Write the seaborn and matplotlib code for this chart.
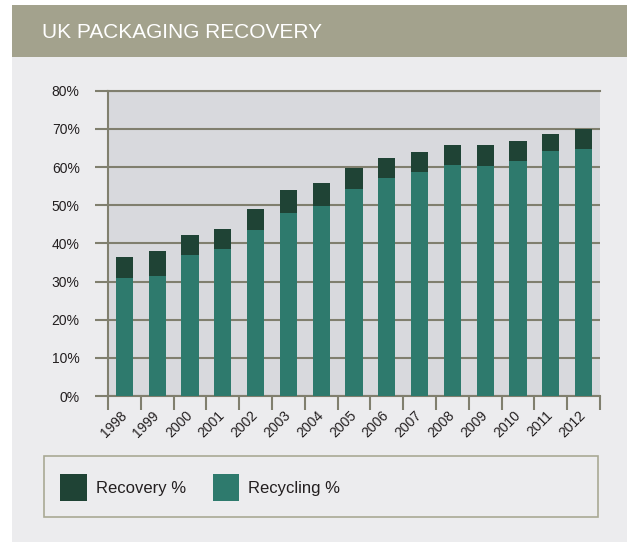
import pandas as pd
import numpy as np
import matplotlib
matplotlib.use("Agg")
import matplotlib.pyplot as plt
from matplotlib.patches import Rectangle, Patch
import seaborn as sns

# values
years = ["1998", "1999", "2000", "2001", "2002", "2003", "2004", "2005",
         "2006", "2007", "2008", "2009", "2010", "2011", "2012"]
recovery = [36.4, 38.0, 42.1, 43.7, 49.0, 53.9, 55.8, 59.7,
            62.3, 63.9, 65.7, 65.7, 66.8, 68.6, 69.9]
recycling = [30.9, 31.4, 36.9, 38.5, 43.5, 47.9, 49.7, 54.2,
             57.1, 58.6, 60.5, 60.2, 61.5, 64.1, 64.7]
y_ticks = [0, 10, 20, 30, 40, 50, 60, 70, 80]

df = pd.DataFrame({"year": years, "recovery": recovery, "recycling": recycling})

sns.set_style("white")
plt.rcParams["font.family"] = ["Liberation Sans", "DejaVu Sans"]

c_recovery = "#1f4335"
c_recycling = "#2e7a6d"
c_grid = "#807f6e"
c_panel = "#ececee"
c_header = "#a3a28d"
c_plot = "#d8d9dd"
c_text = "#231f20"

W, H = 627, 542
fig = plt.figure(figsize=(W / 100, H / 100), dpi=100, facecolor="white")

# header band and panel background
fig.patches.append(Rectangle((12 / W, 0), 615 / W, 485 / H, transform=fig.transFigure,
                             facecolor=c_panel, edgecolor="none", zorder=-2))
fig.patches.append(Rectangle((12 / W, 1 - 57 / H), 615 / W, 52 / H, transform=fig.transFigure,
                             facecolor=c_header, edgecolor="none", zorder=-2))
fig.text(42 / W, 1 - 32 / H, "UK PACKAGING RECOVERY", color="white", fontsize=15,
         va="center", ha="left")

ax = fig.add_axes([108 / W, 1 - 396 / H, 492 / W, 305.3 / H])
ax.set_facecolor(c_plot)

sns.barplot(data=df, x="year", y="recovery", color=c_recovery, width=0.52,
            saturation=1, errorbar=None, ax=ax, zorder=3, linewidth=0, edgecolor="none")
sns.barplot(data=df, x="year", y="recycling", color=c_recycling, width=0.52,
            saturation=1, errorbar=None, ax=ax, zorder=3, linewidth=0, edgecolor="none")

ax.set_xlim(-0.5, len(years) - 0.5)
ax.set_ylim(0, 80)
ax.set_yticks(y_ticks)
ax.set_yticklabels([f"{t}%" for t in y_ticks])
ax.set_xlabel("")
ax.set_ylabel("")

ax.set_axisbelow(True)
ax.yaxis.grid(True, color=c_grid, linewidth=1.5)
ax.xaxis.grid(False)

for side in ["left", "bottom", "top"]:
    ax.spines[side].set_visible(True)
    ax.spines[side].set_color(c_grid)
    ax.spines[side].set_linewidth(1.5)
ax.spines["right"].set_visible(False)

ax.tick_params(axis="y", which="major", left=True, length=9.4, width=1.5, color=c_grid,
               pad=11, labelsize=10, labelcolor=c_text)
ax.set_xticks(np.arange(-0.5, len(years)), minor=True)
ax.tick_params(axis="x", which="minor", bottom=True, length=10, width=1.5, color=c_grid)
ax.tick_params(axis="x", which="major", bottom=True, length=0, pad=12.5,
               labelsize=10, labelcolor=c_text)
for lab in ax.get_xticklabels():
    lab.set_rotation(45)
    lab.set_ha("right")
    lab.set_va("center")
    lab.set_rotation_mode("anchor")

# legend box
fig.patches.append(Rectangle((44 / W, 1 - 517 / H), 554 / W, 61 / H, transform=fig.transFigure,
                             facecolor=c_panel, edgecolor="#a9a995", linewidth=1.2, zorder=-1))
handles = [Patch(facecolor=c_recovery, edgecolor="none", label="Recovery %"),
           Patch(facecolor=c_recycling, edgecolor="none", label="Recycling %")]
fig.legend(handles=handles, loc="center left", bbox_to_anchor=(60 / W, 1 - 487.5 / H),
           ncol=2, frameon=False, fontsize=12, handlelength=1.6, handleheight=2.05,
           handletextpad=0.55, columnspacing=1.6, borderpad=0, borderaxespad=0,
           labelcolor=c_text)

fig.savefig("out.png", dpi=100, facecolor="white")
